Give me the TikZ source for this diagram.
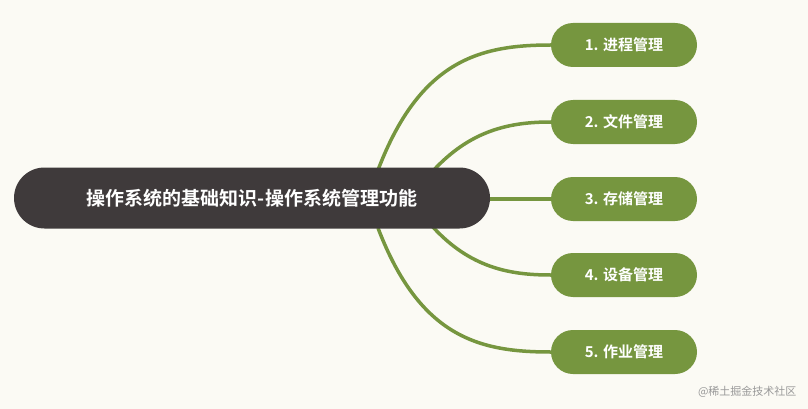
\documentclass[tikz,border=0pt]{standalone}
\usepackage{fontspec}
\setmainfont{Noto Sans CJK SC}
\newfontfamily\cjkb{Noto Sans CJK SC Bold}
\definecolor{bg}{HTML}{FBFAF4}
\definecolor{rootc}{HTML}{3F3A3B}
\definecolor{leafc}{HTML}{76963F}
\begin{document}
\begin{tikzpicture}[x=1pt,y=-1pt,
  rootbox/.style={fill=rootc,rounded corners=30.5pt,minimum width=476pt,minimum height=61pt,text=white,font=\cjkb\fontsize{19}{19}\selectfont,inner sep=0pt},
  leafbox/.style={fill=leafc,rounded corners=22pt,minimum width=146pt,minimum height=44pt,text=white,font=\cjkb\fontsize{15}{15}\selectfont,inner sep=0pt},
  link/.style={draw=leafc,line width=3.5pt}]
\fill[bg] (0,0) rectangle (808,409);
\useasboundingbox (0,0) rectangle (808,409);
\coordinate (s1) at (378,170);
\coordinate (s2) at (432,172);
\coordinate (s3) at (480,199);
\coordinate (s4) at (432,226);
\coordinate (s5) at (378,228);
\node[leafbox] (c1) at (624,45) {1. 进程管理};
\node[leafbox] (c2) at (624,122) {2. 文件管理};
\node[leafbox] (c3) at (624,199) {3. 存储管理};
\node[leafbox] (c4) at (624,275) {4. 设备管理};
\node[leafbox] (c5) at (624,352) {5. 作业管理};
\draw[link] (s1) .. controls (420,60) and (480,45) .. (c1.west);
\draw[link] (s2) .. controls (470,130) and (510,122) .. (c2.west);
\draw[link] (s3) -- (c3.west);
\draw[link] (s4) .. controls (470,268) and (510,275) .. (c4.west);
\draw[link] (s5) .. controls (420,338) and (480,352) .. (c5.west);
\node[rootbox] (r) at (252,198) {操作系统的基础知识-操作系统管理功能};
\node[text=gray!80,font=\fontsize{11}{11}\selectfont,anchor=east] (wm) at (800,392) {@稀土掘金技术社区};
\end{tikzpicture}
\end{document}
